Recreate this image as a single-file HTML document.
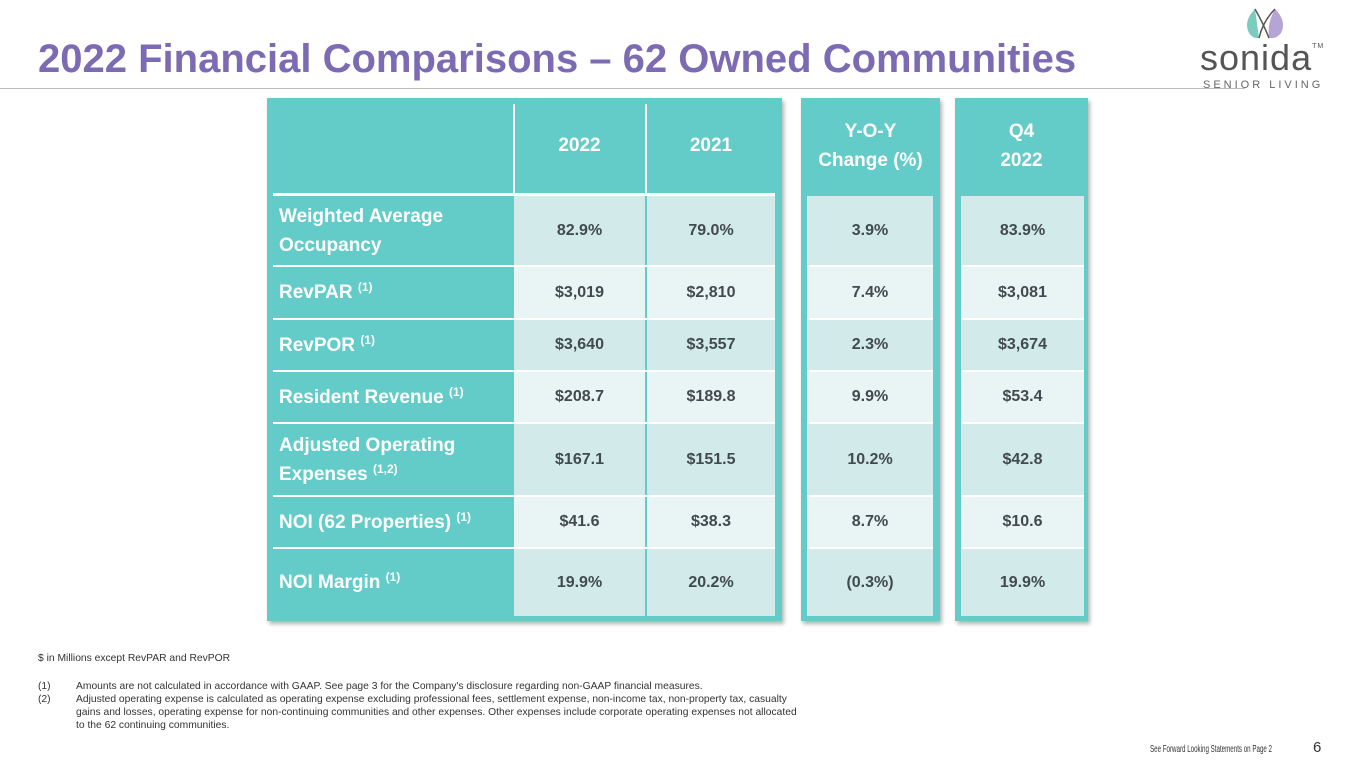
<!DOCTYPE html>
<html><head><meta charset="utf-8"><style>
body{margin:0;width:1365px;height:768px;background:#fff;position:relative;overflow:hidden;font-family:"Liberation Sans",sans-serif}
.a{position:absolute}
.c{position:absolute;display:flex;align-items:center;justify-content:center;font-weight:bold;font-size:16px;color:#404a4f}
.l{position:absolute;display:flex;align-items:center;padding-left:12px;box-sizing:border-box;color:#fff;font-weight:bold;font-size:19px;line-height:29px}
.h{position:absolute;display:flex;align-items:center;justify-content:center;text-align:center;color:#fff;font-weight:bold;font-size:19px;line-height:29px}
sup{font-size:12px;vertical-align:7px;line-height:0}
.fn{font-size:10.3px;color:#333;line-height:13px}
</style></head><body>
<div class="a" style="left:38px;top:37px;font-size:40px;font-weight:bold;color:#7c6bb3;white-space:nowrap">2022 Financial Comparisons – 62 Owned Communities</div>
<div class="a" style="left:0;top:88px;width:1245px;height:1px;background:#bbb"></div>
<div class="a" style="left:1195px;top:3px;width:140px;height:90px">
<svg width="140" height="40" style="position:absolute;left:0;top:0"><path d="M60 6 Q48 18 54 30 Q58 36 64 35 Q62 20 60 6Z" fill="#7ccbbf"/><path d="M80 6 Q92 18 86 30 Q82 36 74 35 Q72 20 80 6Z" fill="#b5a5d6"/><path d="M64 35 Q68 18 80 6" stroke="#555" fill="none" stroke-width="1.5"/><path d="M74 35 Q68 20 60 6" stroke="#555" fill="none" stroke-width="1.5"/></svg>
<div class="a" style="left:5px;top:34px;font-size:36px;color:#555;letter-spacing:1px;white-space:nowrap">sonida<span style="font-size:7px;vertical-align:22px">TM</span></div>
<div class="a" style="left:8px;top:76px;font-size:11px;color:#666;letter-spacing:3px;white-space:nowrap">SENIOR LIVING</div>
</div>
<div id="tbl"></div>
<div class="a fn" style="left:38px;top:652px">$ in Millions except RevPAR and RevPOR</div>
<div class="a fn" style="left:38px;top:680px;width:765px">
<div style="display:flex"><span style="width:38px;flex:none">(1)</span><span>Amounts are not calculated in accordance with GAAP. See page 3 for the Company's disclosure regarding non-GAAP financial measures.</span></div>
<div style="display:flex"><span style="width:38px;flex:none">(2)</span><span>Adjusted operating expense is calculated as operating expense excluding professional fees, settlement expense, non-income tax, non-property tax, casualty gains and losses, operating expense for non-continuing communities and other expenses.  Other expenses include corporate operating expenses not allocated to the 62 continuing communities.</span></div>
</div>
<div class="a" style="left:1150px;top:744px;font-size:10px;color:#333;white-space:nowrap;transform:scaleX(0.62);transform-origin:left top">See Forward Looking Statements on Page 2</div>
<div class="a" style="left:1313px;top:739px;font-size:15px;color:#333">6</div>
<script>
const labels=['Weighted Average Occupancy','RevPAR <sup>(1)</sup>','RevPOR <sup>(1)</sup>','Resident Revenue <sup>(1)</sup>','Adjusted Operating Expenses <sup>(1,2)</sup>','NOI (62 Properties) <sup>(1)</sup>','NOI Margin <sup>(1)</sup>'];
const v2022=['82.9%','$3,019','$3,640','$208.7','$167.1','$41.6','19.9%'];
const v2021=['79.0%','$2,810','$3,557','$189.8','$151.5','$38.3','20.2%'];
const yoy=['3.9%','7.4%','2.3%','9.9%','10.2%','8.7%','(0.3%)'];
const q4=['83.9%','$3,081','$3,674','$53.4','$42.8','$10.6','19.9%'];
const rowTop=[196,267,320,372,424,497,549];
const rowH=[69,51,50,50,71,50,67];
const T=document.getElementById('tbl');
function box(x,y,w,h,bg,cls,html,name){const d=document.createElement('div');d.className=cls||'a';d.style.cssText+=`left:${x}px;top:${y}px;width:${w}px;height:${h}px;background:${bg||'transparent'}`;if(html)d.innerHTML=html;


T.appendChild(d);return d;}
const sh='box-shadow:2px 3px 4px rgba(0,0,0,.3)';
box(267,98,515,523,'#63ccc8','a','','main-block').style.cssText+=sh;
box(801,98,139,523,'#63ccc8','a','','yoy-block').style.cssText+=sh;
box(955,98,133,523,'#63ccc8','a','','q4-block').style.cssText+=sh;
box(513,104,2,89,'#fff','a','','header-divider');
box(645,104,2,89,'#fff','a','','header-divider');
box(273,193,502,3,'#fff','a','','header-rule');
box(514,98,131,95,'','h','2022','header-2022');
box(647,98,128,95,'','h','2021','header-2021');
box(801,98,139,95,'','h','Y-O-Y<br>Change (%)','header-yoy');
box(955,98,133,95,'','h','Q4<br>2022','header-q4');
labels.forEach((lab,i)=>{
 const y=rowTop[i],h=rowH[i],bg=i%2?'#e9f5f5':'#d3eaea';
 if(i>0)box(273,y-2,502,2,'#fff','a','','row-rule');
 box(267,y,246,h,'','l','<span>'+lab+'</span>','row-label');
 box(514,y,131,h,bg,'c',v2022[i],'cell-2022');
 box(647,y,128,h,bg,'c',v2021[i],'cell-2021');
 if(i>0)box(807,y-2,126,2,'#fff','a','','row-rule');
 box(807,y,126,h,bg,'c',yoy[i],'cell-yoy');
 if(i>0)box(961,y-2,123,2,'#fff','a','','row-rule');
 box(961,y,123,h,bg,'c',q4[i],'cell-q4');
});
</script>
</body></html>
